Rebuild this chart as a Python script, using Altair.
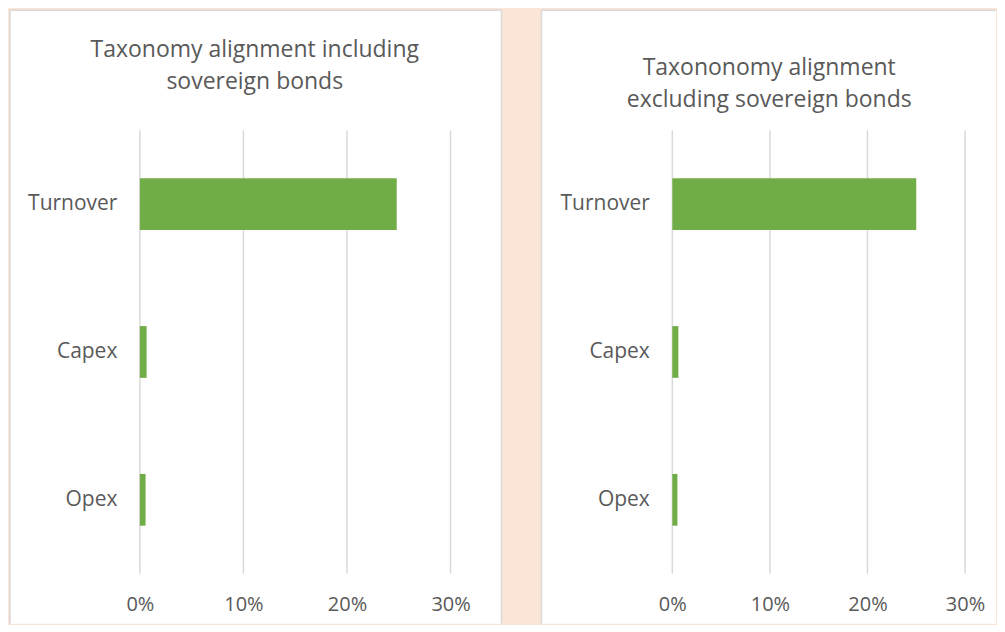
import altair as alt
import pandas as pd

# ---- data ----
categories = ["Turnover", "Capex", "Opex"]
incl_values = [0.248, 0.0065, 0.0055]
excl_values = [0.250, 0.0062, 0.0052]
tick_values = [0.0, 0.1, 0.2, 0.3]
incl_title = ["Taxonomy alignment including", "sovereign bonds"]
excl_title = ["Taxononomy alignment", "excluding sovereign bonds"]

FONT = "Open Sans"
TEXT = "#595959"
GRID = "#D9D9D9"
BORDER = "#D9D9D9"
BAR = "#70AD47"
PEACH = "#FBE5D6"
PLOT_H = 444
BOTTOM = 494  # bottom of the canvas, relative to the plot top

one = pd.DataFrame({"k": [0]})


def panel(values, title_lines, plot_w, p_left, p_right, title_cx, title_y0, show_right_border, with_bg):
    df = pd.DataFrame({"category": categories, "value": values})
    ticks = pd.DataFrame({"t": tick_values})
    xscale = alt.Scale(domain=[0, 0.3], nice=False, zero=True)
    x_axis = alt.Axis(values=tick_values, format=".0%", grid=False, domain=False,
                      ticks=False, tickSize=0, labelPadding=21, labelFont=FONT,
                      labelFontSize=20, labelColor=TEXT, title=None, zindex=1,
                      labelFlush=False, labelOverlap=False)
    y_axis = alt.Axis(domain=False, ticks=False, tickSize=0, labelPadding=23,
                      labelFont=FONT, labelFontSize=21, labelColor=TEXT,
                      title=None, zindex=1)
    layers = []
    if with_bg:
        layers.append(alt.Chart(one).mark_rect(color=PEACH).encode(
            x=alt.value(-132), x2=alt.value(857), y=alt.value(-122), y2=alt.value(BOTTOM)))
    layers.append(alt.Chart(one).mark_rect(color="white").encode(
        x=alt.value(p_left), x2=alt.value(p_right), y=alt.value(-120), y2=alt.value(BOTTOM)))
    # panel borders
    layers.append(alt.Chart(one).mark_rule(color=BORDER, strokeWidth=1.5).encode(
        x=alt.value(p_left), y=alt.value(-120), y2=alt.value(BOTTOM)))
    layers.append(alt.Chart(one).mark_rule(color=BORDER, strokeWidth=1.5).encode(
        y=alt.value(-120), x=alt.value(p_left), x2=alt.value(p_right)))
    if show_right_border:
        layers.append(alt.Chart(one).mark_rule(color=BORDER, strokeWidth=1.5).encode(
            x=alt.value(p_right), y=alt.value(-120), y2=alt.value(BOTTOM)))
    # gridlines
    layers.append(alt.Chart(ticks).mark_rule(color=GRID, strokeWidth=1.5).encode(
        x=alt.X("t:Q", scale=xscale, axis=x_axis),
        y=alt.value(0), y2=alt.value(PLOT_H)))
    # bars
    layers.append(alt.Chart(df).mark_bar(color=BAR).encode(
        x=alt.X("value:Q", scale=xscale, axis=x_axis),
        y=alt.Y("category:N", sort=categories,
                scale=alt.Scale(paddingInner=0.65, paddingOuter=0.325), axis=y_axis)))
    # title lines
    for i, line in enumerate(title_lines):
        layers.append(alt.Chart(one).mark_text(
            font=FONT, fontSize=23, color=TEXT, align="center", baseline="alphabetic").encode(
            x=alt.value(title_cx), y=alt.value(title_y0 + 32 * i), text=alt.value(line)))
    return alt.layer(*layers).properties(width=plot_w, height=PLOT_H)


left = panel(incl_values, incl_title, 311, -130, 362, 115, -73, True, True)
right = panel(excl_values, excl_title, 293, -131, 324, 97, -55, False, False)

chart = alt.hconcat(left, right, spacing=222, bounds="flush").configure_view(
    stroke=None).properties(background=PEACH, padding=0)

chart.save("out.html", embed_options={"renderer": "svg", "actions": False})
